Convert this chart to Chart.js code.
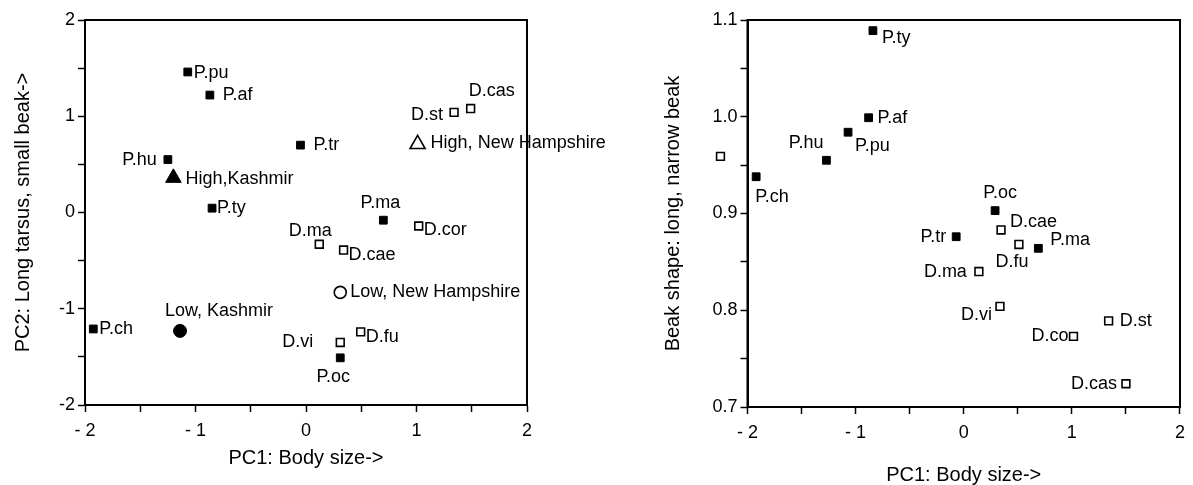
<!DOCTYPE html>
<html>
<head>
<meta charset="utf-8">
<script src="https://cdn.jsdelivr.net/npm/chart.js@4"></script>
<style>
  body { margin: 0; background: #fff; }
  #wrap { position: relative; width: 1193px; height: 485px; }
  .panel { position: absolute; top: 0; height: 485px; }
  #left { left: 0; width: 640px; }
  #right { left: 640px; width: 553px; }
</style>
</head>
<body>
<div id="wrap">
  <div class="panel" id="left"><canvas id="chartLeft"></canvas></div>
  <div class="panel" id="right"><canvas id="chartRight"></canvas></div>
</div>
<script>
// left panel: PC1 vs PC2
const leftClosedNames = ["P.pu", "P.af", "P.tr", "P.hu", "P.ty", "P.ma", "P.ch", "P.oc"];
const leftClosedX = [-1.07, -0.87, -0.05, -1.25, -0.85, 0.70, -1.925, 0.31];
const leftClosedY = [1.46, 1.22, 0.70, 0.55, 0.045, -0.08, -1.21, -1.51];

const leftOpenNames = ["D.cas", "D.st", "D.cor", "D.ma", "D.cae", "D.fu", "D.vi"];
const leftOpenX = [1.49, 1.34, 1.02, 0.12, 0.34, 0.495, 0.31];
const leftOpenY = [1.08, 1.04, -0.14, -0.33, -0.39, -1.24, -1.35];

const siteNames = ["High,Kashmir", "High, New Hampshire", "Low, Kashmir", "Low, New Hampshire"];
const siteX = [-1.20, 1.01, -1.14, 0.31];
const siteY = [0.36, 0.71, -1.23, -0.83];

// right panel: PC1 vs beak shape
const rightClosedNames = ["P.ty", "P.af", "P.pu", "P.hu", "P.ch", "P.oc", "P.tr", "P.ma"];
const rightClosedX = [-0.84, -0.88, -1.07, -1.27, -1.92, 0.29, -0.07, 0.69];
const rightClosedY = [1.089, 0.999, 0.984, 0.955, 0.938, 0.903, 0.876, 0.864];

const rightOpenNames = ["", "D.cae", "D.fu", "D.ma", "D.vi", "D.st", "D.co", "D.cas"];
const rightOpenX = [-2.25, 0.345, 0.51, 0.14, 0.335, 1.34, 1.015, 1.50];
const rightOpenY = [0.959, 0.883, 0.868, 0.840, 0.804, 0.789, 0.773, 0.724];

// label placement relative to the marker: [dx, dy, align]
const leftPlace = {
  "P.pu": [6, 1, "left"],
  "P.af": [13, 0, "left"],
  "P.tr": [13, 0, "left"],
  "P.hu": [-11, 0, "right"],
  "P.ty": [5, 0, "left"],
  "P.ma": [-3, -17, "center"],
  "P.ch": [6, 0, "left"],
  "P.oc": [-7, 19, "center"],
  "D.cas": [-2, -18, "left"],
  "D.st": [-11, 3, "right"],
  "D.cor": [5, 4, "left"],
  "D.ma": [-9, -13, "center"],
  "D.cae": [5, 5, "left"],
  "D.fu": [5, 5, "left"],
  "D.vi": [-27, 0, "right"],
  "High,Kashmir": [12, 1, "left"],
  "High, New Hampshire": [13, -1, "left"],
  "Low, Kashmir": [-15, -20, "left"],
  "Low, New Hampshire": [10, 0, "left"],
};

const rightPlace = {
  "P.ty": [9, 7, "left"],
  "P.af": [9, 0, "left"],
  "P.pu": [7, 14, "left"],
  "P.hu": [-3, -17, "right"],
  "P.ch": [-1, 20, "left"],
  "P.oc": [5, -18, "center"],
  "P.tr": [-10, 0, "right"],
  "P.ma": [12, -8, "left"],
  "D.cae": [9, -8, "left"],
  "D.fu": [-7, 18, "center"],
  "D.ma": [-12, 0, "right"],
  "D.vi": [-8, 9, "right"],
  "D.st": [11, 0, "left"],
  "D.co": [-5, 0, "right"],
  "D.cas": [-9, 0, "right"],
};

const FONT = "'Liberation Sans', Arial, sans-serif";

function toPoints(xs, ys) {
  return xs.map((x, i) => ({ x, y: ys[i] }));
}

function makeLabels(place) {
  return {
    id: "pointLabels",
    afterDatasetsDraw(chart) {
      const ctx = chart.ctx;
      const area = chart.chartArea;
      const everywhere = { left: -1e4, top: -1e4, right: 1e4, bottom: 1e4 };
      ctx.save();
      chart.data.datasets.forEach((ds, i) => {
        chart.getDatasetMeta(i).data.forEach((pt) => {
          // points beyond the axes are skipped by Chart.js, draw them anyway
          const inside = pt.x >= area.left && pt.x <= area.right &&
            pt.y >= area.top && pt.y <= area.bottom;
          if (!inside) pt.draw(ctx, everywhere);
        });
      });
      ctx.font = "18px " + FONT;
      ctx.fillStyle = "#000";
      ctx.textBaseline = "middle";
      chart.data.datasets.forEach((ds, i) => {
        const meta = chart.getDatasetMeta(i);
        ds.names.forEach((name, j) => {
          if (!name) return;
          const [dx, dy, align] = place[name] || [8, 0, "left"];
          const pt = meta.data[j];
          ctx.textAlign = align;
          ctx.fillText(name, pt.x + dx, pt.y + dy);
        });
      });
      ctx.restore();
    },
  };
}

const frame = {
  id: "frame",
  afterDraw(chart) {
    const { left, top, right, bottom } = chart.chartArea;
    const ctx = chart.ctx;
    ctx.save();
    ctx.strokeStyle = "#000";
    ctx.lineWidth = 2;
    ctx.strokeRect(left, top, right - left, bottom - top);
    ctx.restore();
  },
};

function closedSet(names, xs, ys) {
  return {
    names,
    data: toPoints(xs, ys),
    pointStyle: "rect",
    pointRadius: 5.5,
    backgroundColor: "#000",
    borderColor: "#000",
    borderWidth: 1,
    clip: false,
  };
}

function openSet(names, xs, ys) {
  return {
    names,
    data: toPoints(xs, ys),
    pointStyle: "rect",
    pointRadius: 5.5,
    backgroundColor: "#fff",
    borderColor: "#000",
    borderWidth: 1.6,
    clip: false,
  };
}

function xAxis(titleText, titleBottom, axisHeight) {
  return {
    type: "linear",
    min: -2,
    max: 2,
    afterFit: (scale) => { scale.height = axisHeight; },
    border: { color: "#000", width: 2 },
    grid: { drawOnChartArea: false, tickLength: 7, tickColor: "#000", tickWidth: 1.5 },
    ticks: {
      stepSize: 0.5,
      autoSkip: false,
      maxRotation: 0,
      padding: 8,
      color: "#000",
      font: { family: FONT, size: 18 },
      callback: (v) => (Number.isInteger(v) ? (v < 0 ? "- " + -v : String(v)) : ""),
    },
    title: {
      display: true,
      text: titleText,
      color: "#000",
      font: { family: FONT, size: 20, lineHeight: 1.2 },
      padding: { top: 0, bottom: titleBottom },
    },
  };
}

function yAxis(titleText, titleTop, axisWidth, min, max, step, labelFn) {
  return {
    type: "linear",
    min,
    max,
    afterFit: (scale) => { scale.width = axisWidth; },
    border: { color: "#000", width: 2 },
    grid: { drawOnChartArea: false, tickLength: 7, tickColor: "#000", tickWidth: 1.5 },
    ticks: {
      stepSize: step,
      autoSkip: false,
      padding: 3,
      color: "#000",
      font: { family: FONT, size: 18 },
      callback: labelFn,
    },
    title: {
      display: true,
      text: titleText,
      color: "#000",
      font: { family: FONT, size: 20, lineHeight: 1.2 },
      padding: { top: titleTop, bottom: 0 },
    },
  };
}

const commonPlugins = {
  legend: { display: false },
  tooltip: { enabled: false },
};

new Chart(document.getElementById("chartLeft"), {
  type: "scatter",
  data: {
    datasets: [
      closedSet(leftClosedNames, leftClosedX, leftClosedY),
      openSet(leftOpenNames, leftOpenX, leftOpenY),
      {
        names: siteNames,
        data: toPoints(siteX, siteY),
        pointStyle: ["triangle", "triangle", "circle", "circle"],
        pointRadius: [9, 8.7, 6.5, 6],
        backgroundColor: ["#000", "#fff", "#000", "#fff"],
        borderColor: "#000",
        borderWidth: [1, 1.6, 1, 1.6],
        clip: false,
      },
    ],
  },
  options: {
    responsive: true,
    maintainAspectRatio: false,
    animation: false,
    events: [],
    layout: { padding: { top: 20, right: 113, left: 0, bottom: 0 } },
    scales: {
      x: xAxis("PC1: Body size->", 15, 80),
      y: yAxis("PC2: Long tarsus, small beak->", 11, 85, -2, 2, 0.5,
        (v) => (Number.isInteger(v) ? String(v) : "")),
    },
    plugins: commonPlugins,
  },
  plugins: [makeLabels(leftPlace), frame],
});

new Chart(document.getElementById("chartRight"), {
  type: "scatter",
  data: {
    datasets: [
      closedSet(rightClosedNames, rightClosedX, rightClosedY),
      openSet(rightOpenNames, rightOpenX, rightOpenY),
    ],
  },
  options: {
    responsive: true,
    maintainAspectRatio: false,
    animation: false,
    events: [],
    layout: { padding: { top: 20, right: 4, left: 0, bottom: 0 } },
    scales: {
      x: xAxis("PC1: Body size->", -2, 78),
      y: yAxis("Beak shape: long, narrow beak", 21, 107.5, 0.7, 1.1, 0.05, (v) => {
        const t = Math.round(v * 20);
        return t % 2 === 0 ? (t / 20).toFixed(1) : "";
      }),
    },
    plugins: commonPlugins,
  },
  plugins: [makeLabels(rightPlace), frame],
});
</script>
</body>
</html>
